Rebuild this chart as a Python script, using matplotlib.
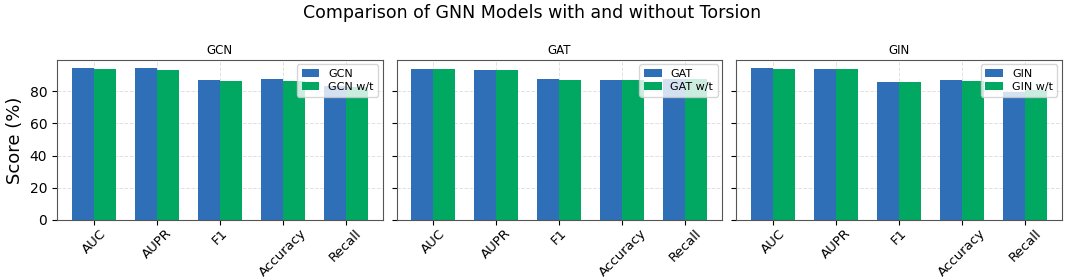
import numpy as np
import matplotlib.pyplot as plt

# metrics shown on the x axis
metrics = ["AUC", "AUPR", "F1", "Accuracy", "Recall"]
models = ["GCN", "GAT", "GIN"]

# scores (%)
gcn = [94.6, 94.1, 86.9, 87.5, 83.0]
gcn_wt = [93.5, 92.9, 86.0, 86.5, 82.5]
gat = [93.5, 93.1, 87.3, 86.9, 87.5]
gat_wt = [93.5, 93.1, 86.9, 86.9, 87.7]
gin = [94.3, 93.9, 85.6, 86.9, 79.6]
gin_wt = [93.9, 93.5, 85.6, 86.5, 80.5]

base_scores = [gcn, gat, gin]
torsion_scores = [gcn_wt, gat_wt, gin_wt]

blue = "#2E6FB7"
green = "#00A862"
width = 0.35

fig, axes = plt.subplots(1, 3, figsize=(10.65, 2.79), dpi=100, sharey=True)
fig.subplots_adjust(left=0.0535, right=0.997, top=0.785, bottom=0.2115, wspace=0.043)

x = np.arange(len(metrics))
for ax, name, base, tors in zip(axes, models, base_scores, torsion_scores):
    ax.set_axisbelow(True)
    ax.bar(x - width / 2, base, width, color=blue, label=name)
    ax.bar(x + width / 2, tors, width, color=green, label=name + " w/t")
    ax.set_title(name, fontsize=8.5, pad=4)
    ax.set_xticks(x)
    ax.set_xticklabels(metrics, rotation=45, fontsize=9.5)
    ax.tick_params(axis="x", pad=1.5)
    ax.tick_params(axis="y", labelsize=10)
    ax.grid(True, linestyle="--", color="#cccccc", alpha=0.6, linewidth=0.7)
    for s in ax.spines.values():
        s.set_color("#555555")
    ax.legend(loc="upper right", fontsize=8, borderaxespad=0.4,
              handlelength=1.6, labelspacing=0.3, borderpad=0.4)

axes[0].set_ylabel("Score (%)", fontsize=13)
fig.suptitle("Comparison of GNN Models with and without Torsion", fontsize=12.5, y=0.985)

fig.savefig("out.png", dpi=100)
